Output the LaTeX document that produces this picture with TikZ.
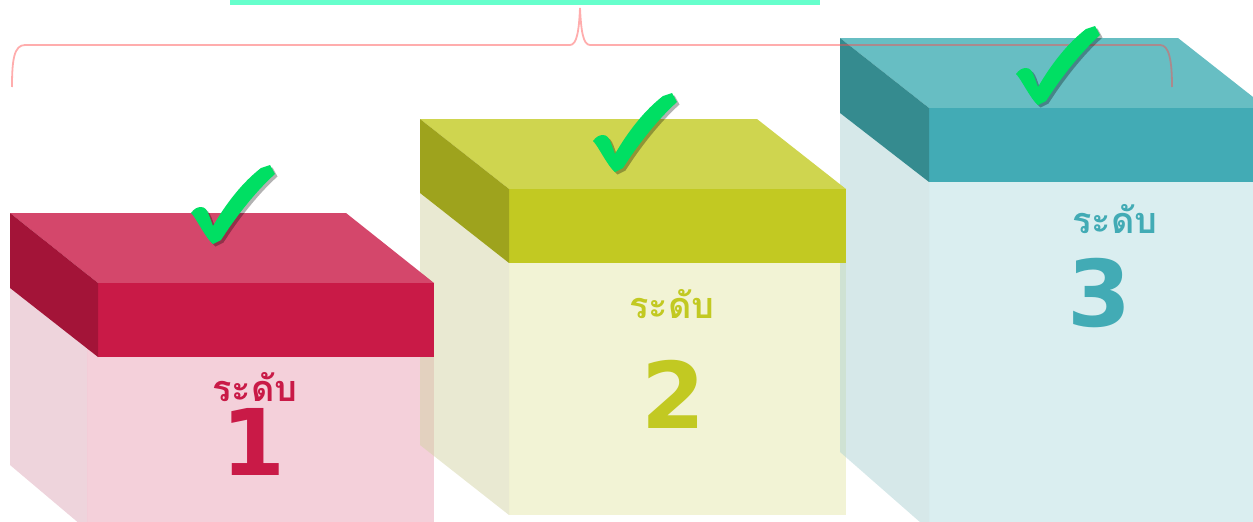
\documentclass[tikz,border=0pt]{standalone}
\usepackage{fontspec}
\newfontfamily\thaifont[Script=Thai]{Loma}
\newfontfamily\numfont{DejaVu Sans}
\definecolor{barmint}{HTML}{66FFCC}
\definecolor{bracered}{HTML}{FF4A4A}
\definecolor{tickgreen}{HTML}{00DF63}
% box 1 (crimson)
\definecolor{aTop}{HTML}{D4476B}
\definecolor{aFront}{HTML}{C91A47}
\definecolor{aSide}{HTML}{A31438}
\definecolor{aBodyF}{RGB}{233,161,181}
\definecolor{aBodyS}{RGB}{221,169,185}
% box 2 (olive)
\definecolor{bTop}{HTML}{CFD54F}
\definecolor{bFront}{HTML}{C2C922}
\definecolor{bSide}{HTML}{9EA31D}
\definecolor{bBodyF}{RGB}{229,231,171}
\definecolor{bBodyS}{RGB}{211,211,165}
% box 3 (teal)
\definecolor{cTop}{HTML}{67BEC3}
\definecolor{cFront}{HTML}{42ABB5}
\definecolor{cSide}{HTML}{358B8F}
\definecolor{cBodyF}{RGB}{181,221,225}
\definecolor{cBodyS}{RGB}{173,209,211}
\begin{document}
\begin{tikzpicture}[x=1pt,y=-1pt,
  body/.style={fill opacity=0.5, draw=none},
  lid/.style={draw=none},
  thailabel/.style={anchor=base, inner sep=0pt, text depth=0pt, font=\thaifont\bfseries\fontsize{36}{36}\selectfont},
  numlabel/.style={anchor=base, inner sep=0pt, text height=66pt, text depth=0pt, font=\numfont\bfseries\fontsize{92}{92}\selectfont},
  chk/.pic={
    \fill[tickgreen, preaction={fill=black, fill opacity=0.3, transform canvas={shift={(2.5pt,-2.5pt)}}}]
      (0,0) .. controls (-4,-3) and (-9,-11) .. (-15,-21)
      .. controls (-18,-26) and (-20,-29) .. (-22,-31)
      .. controls (-19,-35) and (-16,-37) .. (-12,-37)
      .. controls (-8,-37) and (-6,-34) .. (-4,-29)
      -- (0,-18)
      .. controls (14,-42) and (30,-62) .. (48,-76)
      -- (57,-79) -- (62,-70)
      .. controls (42,-52) and (22,-26) .. (8,-4) -- cycle;
  }]
\useasboundingbox (0,0) rectangle (1253,522);
\clip (0,0) rectangle (1253,522);

% ---- bodies ----
% box 1
\fill[body, aBodyS] (10,288) -- (87,348) -- (87,530) -- (10,465) -- cycle;
\fill[body, aBodyF] (87,340) rectangle (434,530);
% box 2
\fill[body, bBodyS] (420,193) -- (509,263) -- (509,515) -- (420,445) -- cycle;
\fill[body, bBodyF] (509,263) rectangle (846,515);
% box 3
\fill[body, cBodyS] (840,113) -- (929,182) -- (929,530) -- (840,452) -- cycle;
\fill[body, cBodyF] (929,182) rectangle (1260,530);

% ---- lids ----
% box 1
\fill[lid, aTop] (10,213) -- (346,213) -- (434,283) -- (98,283) -- cycle;
\fill[lid, aFront] (98,283) rectangle (434,357);
\fill[lid, aSide] (10,213) -- (98,283) -- (98,357) -- (10,288) -- cycle;
% box 2
\fill[lid, bTop] (420,119) -- (757,119) -- (846,189) -- (509,189) -- cycle;
\fill[lid, bFront] (509,189) rectangle (846,263);
\fill[lid, bSide] (420,119) -- (509,189) -- (509,263) -- (420,193) -- cycle;
% box 3
\fill[lid, cTop] (840,38) -- (1178,38) -- (1267,108) -- (929,108) -- cycle;
\fill[lid, cFront] (929,108) rectangle (1260,182);
\fill[lid, cSide] (840,38) -- (929,108) -- (929,182) -- (840,113) -- cycle;

% ---- top bar and brace ----
\fill[barmint] (230,0) rectangle (820,5);
\coordinate (bl) at (12,87);
\coordinate (br) at (1172,87);
\draw[bracered, line width=1.8pt, draw opacity=0.45]
  (bl) .. controls (12,60) and (14,45) .. (25,45) -- (570,45)
  .. controls (577,45) and (579,30) .. (580,8)
  .. controls (581,30) and (583,45) .. (590,45) -- (1160,45)
  .. controls (1169,45) and (1172,60) .. (br);

% ---- labels ----
\node[thailabel, text=aFront] (t1) at (255,401) {ระดับ};
\node[numlabel, text=aFront] (n1) at (254,475) {1};
\node[thailabel, text=bFront] (t2) at (672,318) {ระดับ};
\node[numlabel, text=bFront] (n2) at (673,428) {2};
\node[thailabel, text=cFront] (t3) at (1115,233) {ระดับ};
\node[numlabel, text=cFront] (n3) at (1099,326) {3};

% ---- check marks ----
\pic (k1) at (213,244) {chk};
\pic (k2) at (615,172) {chk};
\pic (k3) at (1038,105) {chk};
\end{tikzpicture}
\end{document}
